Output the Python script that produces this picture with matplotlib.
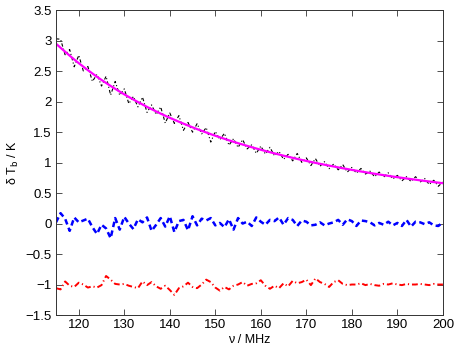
import numpy as np
import matplotlib
matplotlib.use("Agg")
import matplotlib.pyplot as plt
from matplotlib.ticker import FuncFormatter

plt.rcParams['font.family'] = ['Liberation Sans', 'DejaVu Sans']

nu = list(range(115, 201))

# smooth foreground model (magenta)
fg = [2.950, 2.883, 2.818, 2.754, 2.691,
      2.630, 2.573, 2.516, 2.461, 2.407,
      2.355, 2.306, 2.257, 2.210, 2.164,
      2.119, 2.076, 2.034, 1.993, 1.953,
      1.913, 1.876, 1.839, 1.803, 1.768,
      1.734, 1.702, 1.670, 1.639, 1.608,
      1.578, 1.549, 1.521, 1.494, 1.466,
      1.440, 1.415, 1.390, 1.365, 1.341,
      1.318, 1.296, 1.274, 1.252, 1.231,
      1.210, 1.190, 1.170, 1.151, 1.132,
      1.113, 1.095, 1.078, 1.060, 1.043,
      1.027, 1.011, 0.995, 0.980, 0.965,
      0.950, 0.936, 0.921, 0.907, 0.894,
      0.880, 0.867, 0.854, 0.842, 0.829,
      0.817, 0.805, 0.794, 0.782, 0.771,
      0.760, 0.750, 0.739, 0.729, 0.719,
      0.709, 0.699, 0.690, 0.680, 0.671,
      0.662]

# scatter of the black (total) spectrum about the foreground
resid_tot = [0.08, 0.14, -0.05, 0.10, -0.12, 0.13, -0.07, 0.06, -0.13, 0.04,
             -0.10, 0.11, -0.15, 0.12, -0.06, 0.09, -0.11, 0.05, -0.08, 0.12,
             -0.09, 0.07, -0.05, 0.11, -0.12, 0.08, -0.06, 0.10, -0.11, 0.05,
             -0.08, 0.09, -0.05, 0.08, -0.13, 0.07, -0.04, 0.09, -0.08, 0.05,
             -0.07, 0.08, -0.05, 0.04, -0.08, 0.06, -0.05, 0.08, -0.04, 0.05,
             -0.06, 0.04, -0.05, 0.09, -0.04, 0.05, -0.06, 0.07, -0.04, 0.05,
             -0.05, 0.04, -0.04, 0.06, -0.05, 0.04, -0.04, 0.05, -0.03, 0.03,
             -0.05, 0.04, -0.03, 0.05, -0.04, 0.03, -0.05, 0.03, -0.04, 0.05,
             -0.03, 0.04, -0.05, 0.03, -0.06, 0.02]

blue = [0.02, 0.17, 0.08, -0.12, 0.10, 0.02, 0.05, 0.08, -0.06, -0.17,
        -0.02, -0.08, -0.24, 0.09, -0.10, 0.11, 0.00, -0.09, 0.07, 0.02,
        0.10, -0.12, -0.02, 0.09, -0.05, 0.12, -0.14, 0.04, 0.06, -0.11,
        0.12, -0.03, 0.08, 0.05, 0.09, -0.03, 0.01, -0.06, 0.07, -0.10,
        0.09, 0.00, 0.03, -0.04, 0.10, 0.03, -0.02, 0.06, 0.04, 0.10,
        -0.02, 0.09, 0.06, -0.04, 0.05, 0.03, -0.03, -0.02, 0.02, -0.03,
        0.00, 0.02, 0.06, -0.02, 0.07, 0.04, -0.04, 0.05, 0.04, 0.02,
        -0.03, 0.01, -0.02, 0.03, -0.03, 0.01, -0.04, 0.06, -0.05, 0.03,
        0.02, -0.01, 0.02, -0.03, -0.04, 0.02]

red = [-1.06, -1.08, -0.95, -1.02, -1.04, -0.97, -1.00, -1.05, -1.03, -1.05,
       -1.01, -0.86, -0.92, -0.99, -1.00, -0.99, -1.02, -1.04, -1.06, -0.95,
       -1.01, -0.96, -1.03, -1.07, -1.02, -1.09, -1.17, -1.06, -1.03, -0.97,
       -1.04, -1.06, -1.00, -0.92, -0.96, -1.05, -1.10, -1.04, -1.08, -1.02,
       -1.00, -0.96, -1.02, -0.99, -0.98, -0.93, -1.02, -1.07, -1.02, -1.06,
       -0.98, -1.03, -0.94, -0.98, -0.96, -0.92, -1.01, -0.90, -0.96, -0.99,
       -1.04, -0.96, -0.93, -0.99, -1.01, -1.00, -1.00, -0.98, -1.01, -0.99,
       -1.01, -1.02, -0.99, -1.00, -0.98, -1.00, -1.01, -0.99, -1.00, -1.00,
       -0.99, -1.00, -1.01, -0.99, -1.00, -1.00]

total = np.array(fg) + np.array(resid_tot)

fig = plt.figure(figsize=(4.58, 3.5), dpi=100)
ax = fig.add_axes([0.1223, 0.1, 0.8447, 0.871])

ax.plot(nu, total, color='black', lw=0.8, dashes=(3, 2, 1, 2))
ax.plot(nu, fg, color='magenta', lw=1.6)
ax.plot(nu, blue, color='blue', lw=1.8, dashes=(2.2, 1.4))
ax.plot(nu, red, color='red', lw=1.4, dashes=(3, 1.5, 0.6, 1.5))

ax.set_xlim(115, 200)
ax.set_ylim(-1.5, 3.5)
ax.set_xticks(range(120, 201, 10))
ax.set_yticks(np.arange(-1.5, 3.51, 0.5))
ax.yaxis.set_major_formatter(FuncFormatter(lambda v, p: ('%g' % v).replace('-', '\u2212')))
ax.tick_params(direction='in', top=True, right=True, length=4, width=0.6,
               labelsize=9.5, color='#333333', pad=3)
for s in ax.spines.values():
    s.set_linewidth(0.7)
    s.set_color('#333333')

ax.set_xlabel('\u03bd / MHz', fontsize=9, labelpad=2)
ax.set_ylabel('\u03b4 T$_{\\mathrm{b}}$ / K', fontsize=9, labelpad=3)

fig.savefig('out.png', dpi=100)
